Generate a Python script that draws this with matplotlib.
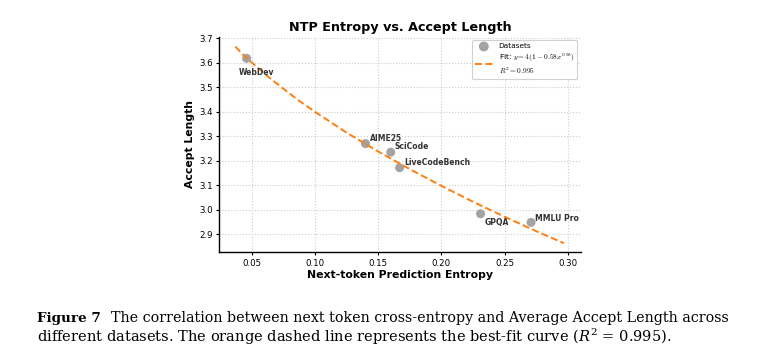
import matplotlib
matplotlib.use("Agg")
import matplotlib.pyplot as plt

# data points
datasets = ["WebDev", "AIME25", "SciCode", "LiveCodeBench", "GPQA", "MMLU Pro"]
entropy = [0.046, 0.140, 0.160, 0.167, 0.231, 0.271]
accept_len = [3.618, 3.270, 3.235, 3.172, 2.984, 2.949]

# best-fit curve as it appears in the figure
fit_x = [0.037, 0.0435, 0.05, 0.0625, 0.075, 0.0875, 0.10, 0.125, 0.15,
         0.175, 0.20, 0.225, 0.25, 0.275, 0.297]
fit_y = [3.666, 3.631, 3.601, 3.545, 3.494, 3.445, 3.400, 3.315, 3.238,
         3.166, 3.098, 3.033, 2.972, 2.913, 2.864]

# label offsets in points (dx, dy)
label_offsets = [(-6, -10), (3, 4), (3, 4), (3, 4), (3, -6), (3, 3)]

plt.rcParams["mathtext.fontset"] = "cm"

fig = plt.figure(figsize=(7.59, 3.59), dpi=100)
ax = fig.add_axes([0.289, 0.297, 0.4765, 0.601])

ax.scatter(entropy, accept_len, s=42, color="#999999", alpha=0.9,
           edgecolors="none", label="Datasets", zorder=3)
ax.plot(fit_x, fit_y, linestyle="--", color="#ff7f0e", linewidth=1.4,
        dashes=(3.6, 1.7), zorder=4,
        label="Fit: $y = 4(1 - 0.58x^{0.58})$\n$R^2 = 0.995$")

for name, x, y, off in zip(datasets, entropy, accept_len, label_offsets):
    ax.annotate(name, (x, y), xytext=off, textcoords="offset points",
                fontsize=5.5, fontweight="bold", color="#333333",
                va="center", ha="left", zorder=5)

ax.set_xlim(0.0244, 0.3105)
ax.set_ylim(2.8265, 3.7065)
ax.set_xticks([0.05, 0.10, 0.15, 0.20, 0.25, 0.30])
ax.set_xticklabels(["0.05", "0.10", "0.15", "0.20", "0.25", "0.30"])
ax.set_yticks([2.9, 3.0, 3.1, 3.2, 3.3, 3.4, 3.5, 3.6, 3.7])

ax.grid(True, linestyle=":", color="#cccccc", linewidth=0.8)
ax.set_axisbelow(True)
for side in ["top", "right"]:
    ax.spines[side].set_visible(False)
for side in ["left", "bottom"]:
    ax.spines[side].set_linewidth(1.0)
ax.tick_params(labelsize=6.2, length=2.5, width=0.8, pad=2)

ax.set_xlabel("Next-token Prediction Entropy", fontsize=7.8, fontweight="bold", labelpad=2)
ax.set_ylabel("Accept Length", fontsize=7.8, fontweight="bold", labelpad=3)
ax.set_title("NTP Entropy vs. Accept Length", fontsize=9.2, fontweight="bold", pad=4)

leg = ax.legend(loc="upper right", fontsize=5.3, frameon=True, framealpha=0.9,
                edgecolor="#cccccc", borderpad=0.4, handlelength=2.4,
                markerscale=1.1, labelspacing=0.35)
leg.get_frame().set_linewidth(0.8)

caption1 = "The correlation between next token cross-entropy and Average Accept Length across"
caption2 = "different datasets. The orange dashed line represents the best-fit curve ($R^2$ = 0.995)."
fig.text(0.0485, 0.103, "Figure 7", fontsize=9.7, fontweight="bold",
         family="DejaVu Serif", va="baseline")
fig.text(0.1459, 0.103, caption1, fontsize=10.3, family="DejaVu Serif", va="baseline")
fig.text(0.0485, 0.047, caption2, fontsize=10.5, family="DejaVu Serif", va="baseline",
         math_fontfamily="dejavuserif")

fig.savefig("out.png", dpi=100)
